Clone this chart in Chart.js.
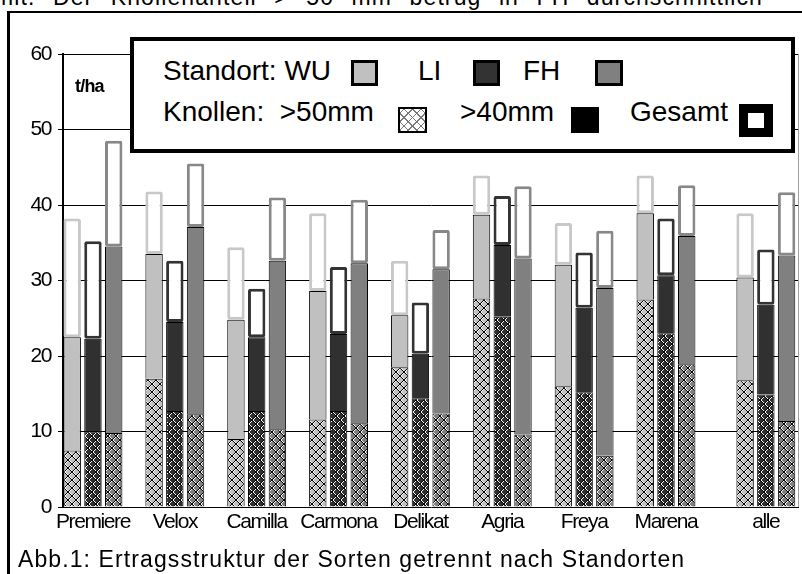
<!DOCTYPE html>
<html>
<head>
<meta charset="utf-8">
<script src="https://cdn.jsdelivr.net/npm/chart.js@4/dist/chart.umd.min.js"></script>
<style>
html,body{margin:0;padding:0;background:#fff;}
body{width:802px;height:574px;position:relative;overflow:hidden;font-family:"Liberation Sans",Arial,sans-serif;color:#000;}
#c{position:absolute;left:0;top:0;}
.t{position:absolute;white-space:pre;line-height:1;}
.sw{position:absolute;box-sizing:border-box;}
</style>
</head>
<body>
<div class="t" style="left:-6px;top:-14.5px;font-size:23px;letter-spacing:1.1px;word-spacing:10px;">mit. Der Knollenanteil &gt; 50 mm betrug in FH durchschnittlich</div>
<div style="position:absolute;left:7px;top:11px;width:795px;height:2px;background:#000;"></div>
<div style="position:absolute;left:7px;top:11px;width:3px;height:563px;background:#000;"></div>
<canvas id="c" width="802" height="574"></canvas>
<div class="t" style="left:75px;top:77px;font-size:18px;font-weight:bold;letter-spacing:-0.8px;">t/ha</div>

<div class="sw" style="left:130px;top:37px;width:665px;height:116px;border:4px solid #000;background:#fff;"></div>
<div class="t" style="left:163px;top:57px;font-size:28px;">Standort: WU</div>
<div class="sw" style="left:351px;top:60px;width:27px;height:26px;border:3px solid #000;background:#c0c0c0;"></div>
<div class="t" style="left:418px;top:57px;font-size:28px;">LI</div>
<div class="sw" style="left:473px;top:60px;width:27px;height:26px;border:3px solid #000;background:#333;"></div>
<div class="t" style="left:523px;top:57px;font-size:28px;">FH</div>
<div class="sw" style="left:595px;top:60px;width:28px;height:26px;border:3px solid #000;background:#808080;"></div>
<div class="t" style="left:163px;top:98px;font-size:28px;">Knollen:  &gt;50mm</div>
<div class="sw" style="left:398px;top:107px;width:29px;height:26px;border:2px solid #000;background:repeating-linear-gradient(45deg,#777 0 1px,transparent 1px 6px),repeating-linear-gradient(-45deg,#777 0 1px,transparent 1px 6px),#fff;"></div>
<div class="t" style="left:460px;top:98px;font-size:28px;">&gt;40mm</div>
<div class="sw" style="left:571px;top:107px;width:28px;height:26px;background:#000;"></div>
<div class="t" style="left:630px;top:98px;font-size:28px;">Gesamt</div>
<div class="sw" style="left:739px;top:104px;width:34px;height:33px;border:9px solid #000;background:#fff;"></div>

<div class="t" style="left:18px;top:548px;font-size:23px;letter-spacing:1.1px;">Abb.1: Ertragsstruktur der Sorten getrennt nach Standorten</div>

<script>
// ---- data (t/ha) ----
const categories = ['Premiere','Velox','Camilla','Carmona','Delikat','Agria','Freya','Marena','alle'];
const yTicks = [0, 10, 20, 30, 40, 50, 60];
const locations = ['WU', 'LI', 'FH'];

// cumulative levels: top of >50mm part, top of >40mm part, total yield
const wuOver50 = [7.5, 17.0, 9.0, 11.6, 18.5, 27.6, 16.0, 27.5, 16.8];
const wuOver40 = [22.5, 33.5, 24.8, 28.6, 25.4, 38.7, 32.1, 38.9, 30.4];
const wuTotal  = [38.2, 41.8, 34.4, 38.9, 32.6, 43.9, 37.6, 43.9, 38.9];

const liOver50 = [10.0, 12.7, 12.7, 12.7, 14.4, 25.2, 15.2, 23.0, 14.9];
const liOver40 = [22.3, 24.5, 22.5, 22.9, 20.3, 34.7, 26.4, 30.7, 26.8];
const liTotal  = [35.2, 32.6, 28.9, 31.8, 27.1, 41.2, 33.7, 38.2, 34.1];

const fhOver50 = [9.8, 12.3, 10.3, 11.1, 12.4, 9.6, 6.8, 18.9, 11.4];
const fhOver40 = [34.5, 37.1, 32.6, 32.3, 31.5, 32.9, 29.0, 35.9, 33.3];
const fhTotal  = [48.5, 45.5, 41.0, 40.7, 36.7, 42.5, 36.6, 42.6, 41.7];

// ---- styling ----
const fills    = {WU: '#c0c0c0', LI: '#303030', FH: '#808080'};
const outlines = {WU: '#c8c8c8', LI: '#333333', FH: '#888888'};
const tickFont = {family: '"Liberation Sans", Arial, sans-serif', size: 21};

// the summary group "alle" is set slightly apart from the varieties
const xPos = categories.map((c, i) => i === categories.length - 1 ? i + 0.22 : i);

function hatch(base) {
  const n = 8;
  const c = document.createElement('canvas');
  c.width = n; c.height = n;
  const g = c.getContext('2d');
  g.fillStyle = base; g.fillRect(0, 0, n, n);
  g.fillStyle = '#ffffff';
  for (let i = 0; i < n; i++) {
    g.fillRect((i + 1) % n, i, 1, 1);
    g.fillRect((n - i) % n, i, 1, 1);
  }
  g.fillStyle = '#000000';
  for (let i = 0; i < n; i++) {
    g.fillRect(i, i, 1, 1);
    g.fillRect(n - 1 - i, i, 1, 1);
  }
  return g.createPattern(c, 'repeat');
}

const series = {
  WU: [wuOver50, wuOver40, wuTotal],
  LI: [liOver50, liOver40, liTotal],
  FH: [fhOver50, fhOver40, fhTotal]
};

const datasets = [];
locations.forEach(loc => {
  const [a, b, t] = series[loc];
  datasets.push({
    label: loc + ' >50mm', stack: loc,
    data: xPos.map((x, i) => ({x: x, y: a[i]})),
    backgroundColor: hatch(fills[loc]), borderColor: '#000', borderWidth: 1
  });
  datasets.push({
    label: loc + ' >40mm', stack: loc,
    data: xPos.map((x, i) => ({x: x, y: b[i] - a[i]})),
    backgroundColor: fills[loc], borderColor: '#000', borderWidth: 1
  });
  datasets.push({
    label: loc + ' Gesamt', stack: loc,
    data: xPos.map((x, i) => ({x: x, y: t[i] - b[i]})),
    backgroundColor: '#ffffff', borderColor: outlines[loc], borderWidth: 3,
    borderSkipped: false, borderRadius: 2
  });
});

const deco = {
  id: 'deco',
  beforeDraw(chart) { chart.ctx.letterSpacing = '-1.4px'; },
  afterDraw(chart) {
    const {ctx, chartArea: a} = chart;
    ctx.letterSpacing = '0px';
    ctx.save();
    ctx.strokeStyle = '#a0a0a0'; ctx.lineWidth = 1;
    ctx.beginPath(); ctx.moveTo(a.right - 0.5, a.top); ctx.lineTo(a.right - 0.5, a.bottom); ctx.stroke();
    ctx.restore();
  }
};

new Chart(document.getElementById('c'), {
  type: 'bar',
  data: {datasets: datasets},
  plugins: [deco],
  options: {
    responsive: false,
    animation: false,
    categoryPercentage: 0.76,
    barPercentage: 0.84,
    layout: {padding: {top: 54, right: 3, bottom: 0, left: 0}},
    plugins: {legend: {display: false}, tooltip: {enabled: false}},
    scales: {
      x: {
        type: 'linear', offset: false,
        min: -0.366, max: 8.625,
        grid: {display: false, drawTicks: false, offset: false},
        border: {display: false},
        ticks: {autoSkip: false, maxRotation: 0, minRotation: 0, color: '#000', font: tickFont, padding: 3,
                callback: (v, i) => categories[i]},
        afterBuildTicks: s => { s.ticks = xPos.map(v => ({value: v})); },
        afterFit: s => { s.height = 67; }
      },
      y: {
        min: yTicks[0], max: yTicks[yTicks.length - 1],
        ticks: {stepSize: 10, color: '#000', font: tickFont, padding: 7},
        afterBuildTicks: s => { s.ticks = yTicks.map(v => ({value: v})); },
        grid: {color: '#000', lineWidth: 1, drawTicks: true, tickLength: 5, tickColor: '#000'},
        border: {display: true, color: '#000', width: 2},
        afterFit: s => { s.width = 63; }
      }
    }
  }
});
</script>
</body>
</html>
